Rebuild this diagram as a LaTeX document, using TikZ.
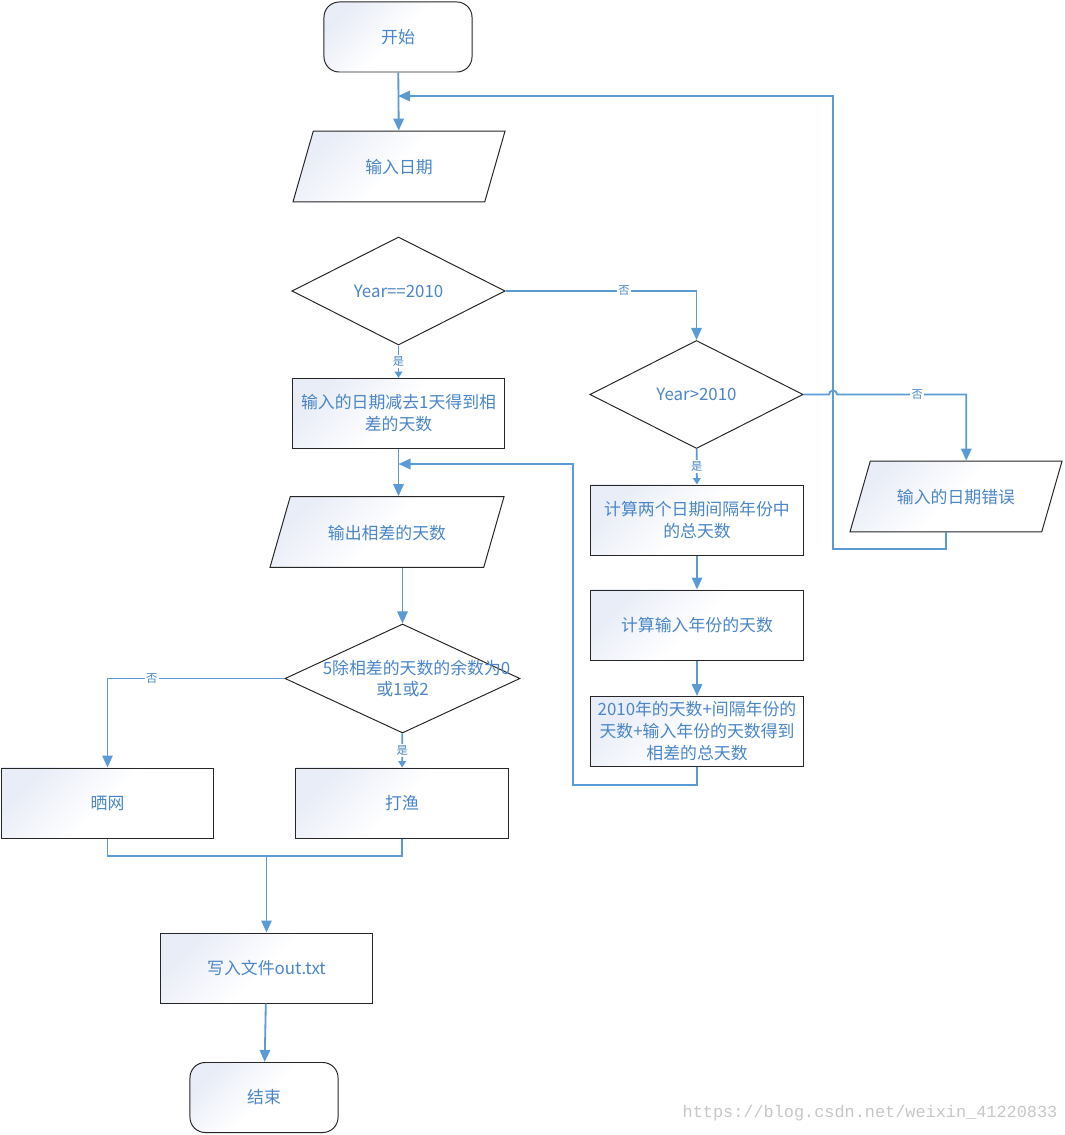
\documentclass[tikz,border=0pt]{standalone}
\usepackage{fontspec}
\newfontfamily\cjk{Noto Sans CJK SC}
\newfontfamily\wmfont{Liberation Mono}
\usepackage{tikz}
\usetikzlibrary{positioning, arrows.meta, shapes.geometric, calc}
\definecolor{flowblue}{HTML}{5B9BD5}
\definecolor{txtblue}{HTML}{4A86C8}
\definecolor{shadeblue}{HTML}{E9EDF7}
\tikzset{
    base/.style={draw=black!85, line width=0.7pt, text=txtblue,
        font=\cjk\fontsize{12}{15.6}\selectfont, align=center, inner sep=2pt},
    shaded/.style={base, top color=shadeblue, bottom color=white, middle color=white,
        shading angle=45},
    proc/.style={shaded, rectangle, minimum width=5.3cm, minimum height=1.75cm},
    term/.style={shaded, rectangle, rounded corners=0.38cm, minimum width=3.7cm, minimum height=1.75cm},
    io/.style={shaded, trapezium, trapezium left angle=74, trapezium right angle=106,
        trapezium stretches body, text height=0.40cm, text depth=0.05cm, inner ysep=0.66cm},
    decide/.style={base, fill=white, diamond, minimum width=5.33cm, minimum height=2.7cm, inner sep=0pt},
    dtext/.style={text=txtblue, font=\cjk\fontsize{12}{15.6}\selectfont, align=center},
    link/.style={draw=flowblue, line width=1.3pt},
    flow/.style={link, -{Triangle[length=3mm,width=2.6mm]}},
    yes/.style={link, -{Triangle[length=1.6mm,width=1.9mm]}},
    lbl/.style={fill=white, text=txtblue, font=\cjk\fontsize{8}{9}\selectfont, inner sep=1pt}
}
\begin{document}
\begin{tikzpicture}[x=0.025cm, y=-0.025cm]
    \useasboundingbox (0,0) rectangle (1064,1135);

    % main column
    \node[term] (start) at (398,37) {开始};
    \node[io, minimum width=5.3cm] (inp) at (399,166.5) {输入日期};
    \node[decide] (dec1) at (398.5,291) {Year==2010};
    \node[proc] (box1) at (398.5,413.5) {输入的日期减去1天得到相\\差的天数};
    \node[io, minimum width=5.85cm] (outp) at (387,532) {输出相差的天数};
    \node[decide, minimum width=5.875cm, minimum height=2.725cm,
        label={[dtext, xshift=0.35cm]center:5除相差的天数的余数为0\\或1或2\hspace*{0.7cm}}] (dec3) at (402.5,678.5) {};
    \node[proc] (net) at (107.5,803) {晒网};
    \node[proc] (fish) at (402,803) {打渔};
    \node[proc] (write) at (266.5,968) {写入文件out.txt};
    \node[term] (stop) at (264,1097.5) {结束};

    % right column
    \node[decide] (dec2) at (696.5,394.5) {Year>2010};
    \node[io, minimum width=5.3cm] (err) at (956,496.5) {输入的日期错误};
    \node[proc] (calc1) at (697,520) {计算两个日期间隔年份中\\的总天数};
    \node[proc] (calc2) at (697,625) {计算输入年份的天数};
    \node[proc] (calc3) at (697,731.5) {2010年的天数+间隔年份的\\天数+输入年份的天数得到\\相差的总天数};

    \node[text=black!22, font=\wmfont\fontsize{12}{14}\selectfont] (mark) at (870,1113)
        {https://blog.csdn.net/weixin\_41220833};

    % bend points
    \coordinate (lp) at (833,549);
    \coordinate (top) at (833,96);
    \coordinate (back) at (573,785);
    \coordinate (back2) at (573,464);
    \coordinate (mrg) at (266.5,856);
    \coordinate (errin) at ($(err.top left corner)!0.5!(err.top right corner)$);
    \coordinate (errout) at ($(err.bottom left corner)!0.5!(err.bottom right corner)$);

    % straight arrows
    \foreach \a/\b in {start/inp, calc1/calc2, calc2/calc3, write/stop}
    {
        \draw[flow] (\a) -- (\b);
    }
    \draw[flow] (box1.south) -- (box1.south |- outp.north);
    \draw[flow] (dec3.north |- outp.south) -- (dec3.north);

    % decisions
    \draw[yes] (dec1) -- node[lbl]{是} (box1);
    \draw[yes] (dec2) -- node[lbl]{是} (calc1);
    \draw[yes] (dec3) -- node[lbl]{是} (fish);
    \draw[flow] (dec1.east) -| node[lbl, pos=0.31]{否} (dec2.north);
    \draw[flow] (dec3.west) -| node[lbl, pos=0.375]{否} (net.north);
    \draw[flow] (dec2.east) -- ([xshift=-0.1cm]dec2.east -| lp)
        arc[start angle=180, end angle=0, radius=0.1cm]
        -| node[lbl, pos=0.31]{否} (errin);

    % loops back
    \draw[flow] (errout) |- (lp) -- (top) -- (start.south |- top);
    \draw[flow] (calc3.south) |- (back) -- (back2) -- (box1.south |- back2);

    % merge
    \draw[link] (net.south) |- (mrg) -| (fish.south);
    \draw[flow] (mrg) -- (write.north);
\end{tikzpicture}
\end{document}
